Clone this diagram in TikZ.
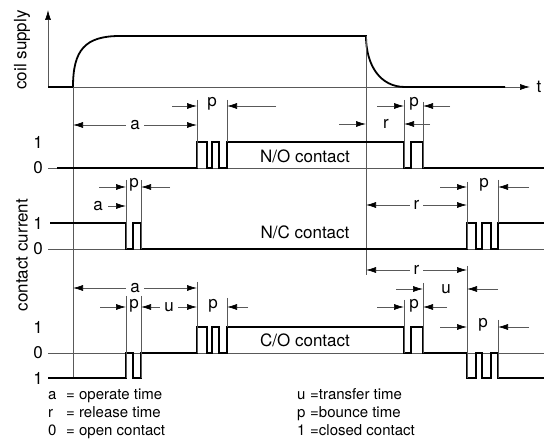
\documentclass[tikz,border=0pt]{standalone}
\usepackage{fontspec}
\setmainfont{TeX Gyre Heros}
\usetikzlibrary{arrows.meta}
\begin{document}
\begin{tikzpicture}[x=1pt, y=-1pt, font=\fontsize{17}{20}\selectfont]
    % 样式定义
    \tikzstyle{thin line}=[draw=black!65, line width=0.7pt]
    \tikzstyle{signal}=[draw=black, line width=1.8pt, line join=miter]
    \tikzstyle{dim}=[thin line, >={Latex[length=10pt,width=6pt,color=black]}]
    \tikzstyle{lbl}=[inner sep=1.5pt]
    \tikzstyle{gap lbl}=[lbl, fill=white, inner xsep=4pt, inner ysep=0pt]
    \tikzstyle{legend}=[anchor=west, inner sep=0pt, font=\fontsize{15}{18}\selectfont, text height=11pt, text depth=3pt]
    \useasboundingbox (0,0) rectangle (544,443);

    % 线圈电源坐标轴
    \draw[dim, ->] (48,87) -- (48,10);
    \draw[dim, ->] (48,87) -- (530,87);
    \node[lbl] (tlabel) at (539,87) {t};
    \node[lbl, rotate=90] (coil) at (22,50) {coil supply};
    \node[lbl, rotate=90] (current) at (22,255) {contact current};
    \draw[signal] (48,87) -- (73,87) .. controls (73,50) and (85,36) .. (120,36)
        -- (366,36) .. controls (366,65) and (380,87) .. (405,87) -- (505,87);

    % 时间参考线
    \draw[thin line] (73,87) -- (73,378);
    \draw[thin line] (366,36) -- (366,275);

    % 零电平线
    \draw[thin line] (48,168) -- (544,168);
    \draw[thin line] (48,249) -- (544,249);
    \draw[thin line] (48,353) -- (544,353);

    % 电平标记
    \node[lbl] (no1) at (38,142) {1};
    \node[lbl] (no0) at (38,168) {0};
    \node[lbl] (nc1) at (38,223) {1};
    \node[lbl] (nc0) at (38,249) {0};
    \node[lbl] (co1) at (38,327) {1};
    \node[lbl] (co0) at (38,353) {0};
    \node[lbl] (co1b) at (38,378) {1};

    % 常开触点 (N/O)
    \draw[signal] (57,168) -- (197,168) -- (197,142) -- (207,142) -- (207,168) -- (212,168)
        -- (212,142) -- (219,142) -- (219,168) -- (227,168) -- (227,142) -- (404,142)
        -- (404,168) -- (411,168) -- (411,142) -- (423,142) -- (423,168) -- (544,168);
    \node[lbl] (nolabel) at (305,156) {N/O contact};
    \draw[thin line] (197,100) -- (197,168);
    \draw[thin line] (227,100) -- (227,142);
    \draw[thin line] (404,100) -- (404,168);
    \draw[thin line] (423,102) -- (423,168);
    \draw[dim, <->] (73,125) -- node[gap lbl] (aNO) {a} (197,125);
    \draw[dim, ->] (172,106) -- (197,106);
    \node[lbl] (pNO) at (212,104) {p};
    \draw[dim, ->] (276,106) -- (227,106);
    \draw[dim, ->] (339,124) -- (366,124);
    \node[lbl] (rNO) at (386,124) {r};
    \draw[dim, ->] (430,124) -- (404,124);
    \draw[dim, ->] (377,106) -- (404,106);
    \node[lbl] (pNO2) at (414,104) {p};
    \draw[dim, ->] (450,106) -- (423,106);

    % 常闭触点 (N/C)
    \draw[signal] (50,223) -- (126,223) -- (126,249) -- (133,249) -- (133,223) -- (141,223)
        -- (141,249) -- (467,249) -- (467,223) -- (476,223) -- (476,249) -- (482,249)
        -- (482,223) -- (491,223) -- (491,249) -- (498,249) -- (498,223) -- (544,223);
    \node[lbl] (nclabel) at (305,232) {N/C contact};
    \draw[thin line] (126,180) -- (126,249);
    \draw[thin line] (141,180) -- (141,249);
    \draw[thin line] (467,182) -- (467,249);
    \draw[thin line] (498,180) -- (498,223);
    \node[lbl] (aNC) at (98,206) {a};
    \draw[dim, ->] (108,206) -- (126,206);
    \draw[dim, ->] (99,187) -- (126,187);
    \node[lbl] (pNC) at (134,185) {p};
    \draw[dim, ->] (170,187) -- (141,187);
    \draw[dim, <->] (366,205) -- node[gap lbl] (rNC) {r} (467,205);
    \draw[dim, ->] (440,187) -- (467,187);
    \node[lbl] (pNC2) at (484,185) {p};
    \draw[dim, ->] (529,187) -- (498,187);

    % 转换触点 (C/O)
    \draw[signal] (48,378) -- (126,378) -- (126,353) -- (133,353) -- (133,378) -- (141,378)
        -- (141,353) -- (197,353) -- (197,327) -- (207,327) -- (207,353) -- (212,353)
        -- (212,327) -- (219,327) -- (219,353) -- (227,353) -- (227,327) -- (404,327)
        -- (404,353) -- (411,353) -- (411,327) -- (423,327) -- (423,353) -- (467,353)
        -- (467,378) -- (476,378) -- (476,353) -- (482,353) -- (482,378) -- (491,378)
        -- (491,353) -- (498,353) -- (498,378) -- (544,378);
    \node[lbl] (colabel) at (305,340) {C/O contact};
    \draw[thin line] (126,296) -- (126,378);
    \draw[thin line] (141,296) -- (141,378);
    \draw[thin line] (197,282) -- (197,353);
    \draw[thin line] (227,298) -- (227,327);
    \draw[thin line] (404,300) -- (404,353);
    \draw[thin line] (423,283) -- (423,353);
    \draw[thin line] (467,266) -- (467,378);
    \draw[thin line] (498,320) -- (498,378);
    \draw[dim, <->] (73,288) -- node[gap lbl] (aCO) {a} (197,288);
    \draw[dim, ->] (100,307) -- (126,307);
    \node[lbl] (pCO) at (134,306) {p};
    \draw[dim, <->] (141,307) -- node[gap lbl] (uCO) {u} (197,307);
    \node[lbl] (pCO2) at (213,306) {p};
    \draw[dim, ->] (248,307) -- (227,307);
    \draw[dim, <->] (366,270) -- node[gap lbl] (rCO) {r} (467,270);
    \draw[dim, ->] (396,289) -- (423,289);
    \node[lbl] (uCO2) at (446,289) {u};
    \draw[dim, ->] (498,289) -- (467,289);
    \draw[dim, ->] (377,307) -- (404,307);
    \node[lbl] (pCO3) at (414,306) {p};
    \draw[dim, ->] (447,307) -- (423,307);
    \draw[dim, ->] (440,327) -- (467,327);
    \node[lbl] (pCO4) at (483,325) {p};
    \draw[dim, ->] (529,327) -- (498,327);

    % 图例
    \node[legend] (legA) at (48,396) {\makebox[18pt][l]{a}= operate time};
    \node[legend] (legR) at (48,414) {\makebox[18pt][l]{r}= release time};
    \node[legend] (legO) at (48,432) {\makebox[18pt][l]{0}= open contact};
    \node[legend] (legU) at (297,396) {\makebox[13pt][l]{u}=transfer time};
    \node[legend] (legP) at (297,414) {\makebox[13pt][l]{p}=bounce time};
    \node[legend] (legC) at (297,432) {\makebox[13pt][l]{1}=closed contact};
\end{tikzpicture}
\end{document}
